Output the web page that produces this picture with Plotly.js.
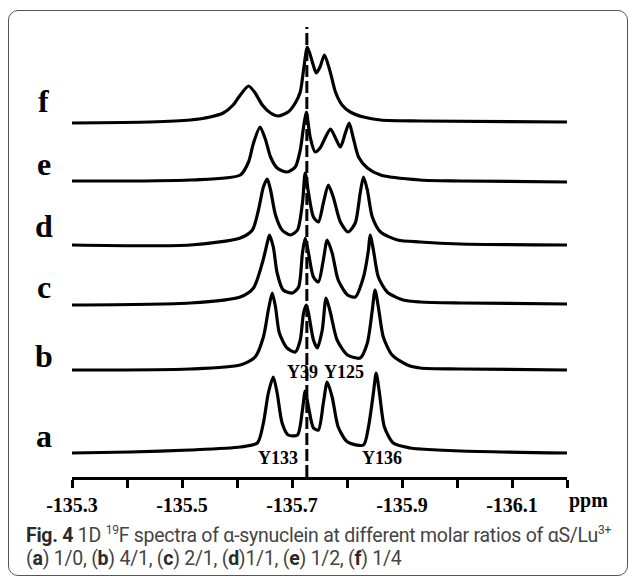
<!DOCTYPE html>
<html>
<head>
<meta charset="utf-8">
<script src="https://cdn.plot.ly/plotly-3.0.1.min.js"></script>
<style>
  html, body { margin: 0; padding: 0; background: #ffffff; }
  #wrap { position: relative; width: 629px; height: 582px; overflow: hidden; }
  #frame { position: absolute; left: 8px; top: 10px; width: 620px; height: 566px;
           border: 1.5px solid #555; border-radius: 10px; box-sizing: border-box; }
  #chart { position: absolute; left: 0; top: 0; width: 629px; height: 582px; }
  #caption { position: absolute; left: 26px; top: 524px; font-family: Roboto, "Noto Sans", sans-serif;
             font-size: 19.5px; line-height: 23px; color: #444; white-space: nowrap;
             letter-spacing: -0.25px; }
  #caption div { height: 23px; }
  #caption b { color: #2a2a2a; font-weight: 700; }
  #caption sup { font-size: 12px; line-height: 0; vertical-align: 8px; }
</style>
</head>
<body>
<div id="wrap">
  <div id="frame"></div>
  <div id="chart"></div>
  <div id="caption">
    <div><b>Fig. 4</b> 1D <sup>19</sup>F spectra of α-synuclein at different molar ratios of αS/Lu<sup>3+</sup></div>
    <div>(<b>a</b>) 1/0, (<b>b</b>) 4/1, (<b>c</b>) 2/1, (<b>d</b>)1/1, (<b>e</b>) 1/2, (<b>f</b>) 1/4</div>
  </div>
</div>
<script>
// ---- data (ppm, intensity above own baseline) ----
const labels = ['a', 'b', 'c', 'd', 'e', 'f'];
const offsets = [25, 107, 173, 232, 296, 355];

const ppmA = [-135.300,-135.406,-135.515,-135.606,-135.637,-135.648,-135.657,-135.666,-135.673,-135.682,-135.693,-135.710,-135.719,-135.724,-135.730,-135.739,-135.748,-135.757,-135.764,-135.773,-135.784,-135.801,-135.830,-135.839,-135.848,-135.853,-135.859,-135.868,-135.884,-135.915,-135.933,-136.006,-136.200];
const intA = [-1,0,2,5,9,29,59,75,59,29,17,17,42,61,45,24,22,49,70,55,25,10,7,25,59,79,59,25,9,4,3,1,-1];

const ppmB = [-135.300,-135.515,-135.606,-135.633,-135.648,-135.657,-135.664,-135.670,-135.677,-135.691,-135.706,-135.715,-135.721,-135.726,-135.730,-135.739,-135.746,-135.755,-135.762,-135.770,-135.782,-135.801,-135.824,-135.837,-135.846,-135.851,-135.857,-135.866,-135.882,-135.910,-135.933,-136.006,-136.200];
const intB = [0,1,5,13,33,60,77,63,37,22,18,30,57,65,57,30,22,40,72,57,30,15,12,27,60,80,63,33,15,5,2,1,0];

const ppmC = [-135.300,-135.515,-135.606,-135.630,-135.646,-135.655,-135.659,-135.666,-135.673,-135.684,-135.701,-135.712,-135.719,-135.724,-135.730,-135.739,-135.748,-135.757,-135.764,-135.773,-135.784,-135.801,-135.815,-135.830,-135.839,-135.842,-135.848,-135.857,-135.873,-135.902,-135.933,-136.006,-136.200];
const intC = [-1,1,7,16,41,61,69,57,31,14,11,17,51,66,51,27,22,44,64,51,24,9,7,27,54,69,54,27,12,4,2,1,0];

const ppmD = [-135.300,-135.515,-135.606,-135.628,-135.639,-135.648,-135.655,-135.661,-135.670,-135.682,-135.697,-135.710,-135.719,-135.724,-135.730,-135.739,-135.748,-135.757,-135.766,-135.775,-135.788,-135.802,-135.815,-135.824,-135.830,-135.837,-135.846,-135.861,-135.892,-135.933,-136.006,-136.200];
const intD = [0,0,7,15,35,58,66,55,30,15,10,15,42,72,52,28,23,42,60,48,23,13,22,52,68,55,28,13,5,3,1,0];

const ppmE = [-135.300,-135.515,-135.606,-135.621,-135.630,-135.642,-135.652,-135.661,-135.673,-135.691,-135.706,-135.715,-135.721,-135.726,-135.733,-135.742,-135.751,-135.761,-135.770,-135.779,-135.788,-135.797,-135.804,-135.811,-135.821,-135.837,-135.861,-135.933,-136.006,-136.200];
const intE = [0,1,6,19,38,54,41,24,13,9,14,31,54,69,44,29,33,44,52,43,34,48,58,44,24,13,6,1,0,-1];

const ppmF = [-135.300,-135.442,-135.515,-135.551,-135.575,-135.593,-135.606,-135.621,-135.633,-135.646,-135.661,-135.675,-135.693,-135.706,-135.715,-135.721,-135.728,-135.737,-135.744,-135.751,-135.759,-135.770,-135.779,-135.791,-135.806,-135.830,-135.861,-135.933,-136.200];
const intF = [-1,0,2,5,9,17,27,36,29,17,9,6,10,19,30,52,75,60,49,55,67,49,30,17,10,5,2,1,0];

const tickVals = [-135.3,-135.4,-135.5,-135.6,-135.7,-135.8,-135.9,-136.0,-136.1,-136.2];
const tickText = ['-135.3','','-135.5','','-135.7','','-135.9','','-136.1',''];
const refLinePpm = -135.727;
const peakNames = ['Y39', 'Y125', 'Y133', 'Y136'];

// ---- build ----
const ppmSets = [ppmA, ppmB, ppmC, ppmD, ppmE, ppmF];
const intSets = [intA, intB, intC, intD, intE, intF];

const traces = ppmSets.map((p, i) => ({
  type: 'scatter', mode: 'lines',
  x: p,
  y: intSets[i].map(v => v + offsets[i]),
  line: { color: '#000', width: 3.2, shape: 'spline', smoothing: 0.7 },
  hoverinfo: 'skip', showlegend: false
}));

const serif = '"Liberation Serif", "Times New Roman", serif';
const letterY = [41, 121, 190, 251, 313, 376];

const annotations = labels.map((t, i) => ({
  text: t, xref: 'paper', yref: 'y', x: -0.057, y: letterY[i],
  xanchor: 'center', yanchor: 'middle', showarrow: false,
  font: { family: serif, size: 32, color: '#000', weight: 700 }
}));

const peakPos = [
  { x: -135.719, y: 105 }, { x: -135.794, y: 105 },
  { x: -135.675, y: 19 }, { x: -135.864, y: 19 }
];
peakNames.forEach((t, i) => annotations.push({
  text: t, xref: 'x', yref: 'y', x: peakPos[i].x, y: peakPos[i].y,
  xanchor: 'center', yanchor: 'middle', showarrow: false,
  font: { family: serif, size: 18, color: '#000', weight: 700 }
}));

annotations.push({
  text: 'ppm', xref: 'paper', yref: 'paper', x: 1.043, y: -0.052,
  xanchor: 'center', yanchor: 'middle', showarrow: false,
  font: { family: serif, size: 20, color: '#000', weight: 700 }
});

const layout = {
  width: 629, height: 582,
  margin: { l: 72, r: 62, t: 20, b: 105 },
  paper_bgcolor: 'rgba(0,0,0,0)', plot_bgcolor: 'rgba(0,0,0,0)',
  showlegend: false,
  xaxis: {
    range: [-135.3, -136.2], autorange: false,
    showgrid: false, zeroline: false,
    showline: true, linecolor: '#000', linewidth: 3,
    ticks: 'outside', ticklen: 8, tickwidth: 3, tickcolor: '#000',
    tickmode: 'array', tickvals: tickVals, ticktext: tickText,
    tickfont: { family: serif, size: 20, color: '#000', weight: 700 }
  },
  yaxis: {
    range: [0, 457], autorange: false, visible: false, showgrid: false, zeroline: false
  },
  shapes: [{
    type: 'line', xref: 'x', yref: 'y', layer: 'above',
    x0: refLinePpm, x1: refLinePpm, y0: 0, y1: 450,
    line: { color: '#000', width: 3, dash: '12px,4px' }
  }],
  annotations: annotations
};

Plotly.newPlot('chart', traces, layout, { staticPlot: true, displayModeBar: false });
</script>
</body>
</html>
